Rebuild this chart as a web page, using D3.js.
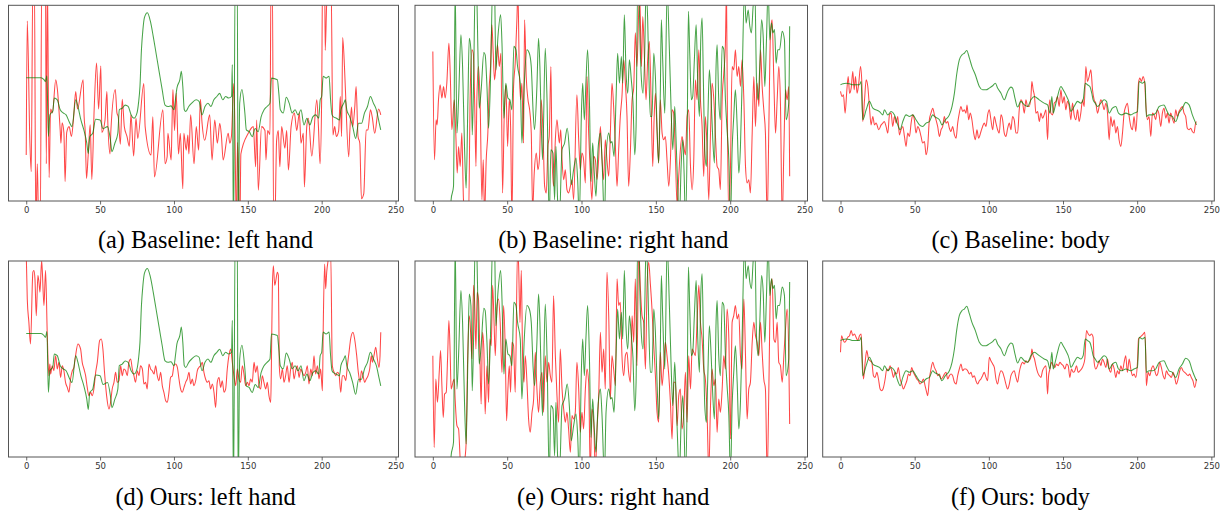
<!DOCTYPE html>
<html><head><meta charset="utf-8">
<script src="https://cdn.jsdelivr.net/npm/d3@7"></script>
<style>html,body{margin:0;padding:0;background:#fff;} svg{display:block;}</style>
</head><body>
<svg id="chart" width="1223" height="513"></svg>
<script>
// ---------- data (frame index, normalised value; values outside 0..100 leave the visible axes) ----------
const frameTicks = [0, 50, 100, 150, 200, 250];
const frameDomain = [-12, 252];
const valueDomain = [0, 100];

const captions = [
  "(a) Baseline: left hand", "(b) Baseline: right hand", "(c) Baseline: body",
  "(d) Ours: left hand", "(e) Ours: right hand", "(f) Ours: body"
];

// ground truth (green)
const gtLeftHand = [[0,63],[10,63],[12,62],[13,61],[14,64],[15,33],[16,44],[18,46],[19,52.6],[21,51.7],[23,46.6],[25,45],[27,44],[29,40.6],[31,38],[33.5,51.7],[35,48.3],[37,41.4],[39,36.3],[41,29.5],[42,24.3],[43,32.9],[45,34.6],[47,41.8],[50,41.4],[52,37],[55,38],[57,31.2],[58,25.2],[60,29.5],[62,34.6],[63,46.6],[65,47.4],[67,49],[69,48.3],[71,44],[73,42.3],[75,45],[76,50],[77,58.6],[78,77.4],[79,87.7],[80,93.7],[82,96.2],[84,92],[86,84],[88,75],[90,66],[92,57],[94,49],[96,48.3],[98,48.6],[100,46.6],[101,51.7],[102,57.7],[104,62],[105,66.3],[106,58.5],[107,46.6],[108,45.7],[110,48.3],[112,50],[115,51.7],[117,50.9],[119,44],[121,48.3],[123,50],[125,48.3],[127,51.7],[129,53.4],[131,55],[133,51.7],[135,53.4],[137,52.6],[139,53.4],[139.5,69.7],[140.3,-20],[141.5,120],[142.8,120],[143.5,-20],[144.5,50],[146,57],[148,45],[149,36.3],[151,35.4],[153,32.9],[155,37],[157,35.4],[159,43],[161,46.6],[163,48.3],[165,50],[166,62.8],[170,62],[171,55],[172,46.6],[174,45],[176,53],[178,50],[180,45],[182,46.6],[184,44],[186,46.6],[188,38.9],[190,42.3],[192,38.9],[194,43],[196,44],[198,42.3],[199,51.7],[200,53.4],[201,63.7],[203,62.8],[205,63.7],[206,52],[207,44],[208,43],[210,42.3],[212,41.4],[213,46.6],[215,50],[216,51.7],[217,46.6],[219,43],[221,38],[223,32],[225,39.7],[227,39.7],[229,45],[231,48.3],[233,53.4],[235,50],[237,46.6],[239,39.7],[240,36.3]];

const gtRightHand = [[0,-20],[11.5,-8],[12.3,0.7],[13.9,7.5],[15,110],[16.2,34.7],[17.3,51.7],[18.9,85],[20,68.7],[21.3,27.9],[22.4,6.6],[23.6,51.7],[24.5,83.2],[25.6,77.3],[26.5,33.8],[27.4,60.2],[28.5,110],[29.4,108],[30.3,77.3],[31.2,47.4],[32.5,56.8],[34.3,75.9],[35.2,74.7],[36.4,58.5],[37.5,37.2],[39,68.7],[40.2,110],[41.5,108],[42.4,67],[43.8,84.1],[45.6,95.2],[46.5,80.6],[47.8,42.3],[49.1,60.2],[50.5,52.6],[51.8,51.7],[53.2,46.6],[54.5,79],[55.9,77.3],[57,68.7],[58.8,60.2],[59.9,29.6],[61.5,60.2],[63.3,77.3],[64.9,75.5],[66.2,68.7],[67.5,44.9],[68.4,36.4],[70,58.5],[71.1,83.2],[72,68.7],[72.9,39.8],[73.8,21.1],[75.6,78.1],[76.8,51.7],[78.3,-10],[79.4,26.2],[80.8,24.5],[81.9,0.7],[82.8,27.9],[83.9,0.7],[85.1,-10],[86.9,26.2],[88.6,29.6],[90.4,37.2],[91.8,26.2],[93.1,8.3],[94.7,16],[96.3,21.9],[97.4,10.9],[98.5,-10],[99.9,44],[100.8,60.2],[101.9,41.5],[103,61.1],[104.1,77.3],[105.3,51.7],[106.4,10],[107.5,29.6],[108.6,14.3],[109.7,2.4],[111.1,26.2],[112.7,34.7],[113.8,21.1],[115.4,-10],[116.5,22.8],[118.3,34.7],[119.6,29.6],[120.5,30.4],[121.9,22.8],[123.2,51.7],[124.3,75.5],[125.5,60.2],[126.8,73.8],[127.7,60.2],[128.8,95.2],[129.9,67],[131.1,55.1],[132.2,72.1],[133.5,61.9],[134.6,50.9],[135.8,23.6],[136.7,38.1],[137.8,110],[138.5,110],[139.4,80.6],[140.3,61.9],[141.4,55.1],[142.5,75.5],[143.4,108],[144.5,92.6],[145.2,68.7],[146.3,43.2],[147.4,43.2],[148.6,75.5],[149.7,63.6],[150.8,38.1],[151.9,19.4],[153,55.1],[153.7,92.6],[154.6,72.1],[156,44.9],[157.6,108],[159.1,77.3],[160.2,48.3],[161.4,26.2],[162.7,48.3],[163.6,31.3],[164.9,2.4],[165.8,-10],[167,17.7],[168.1,31.3],[169,14.3],[169.9,-10],[171,26.2],[171.9,96.9],[172.8,75.5],[173.9,51.7],[174.8,53.4],[175.9,72.1],[177.1,90.1],[178.2,60.2],[179.3,43.2],[180.2,82.3],[181.1,93.5],[182,60.2],[182.9,26.2],[184,17.7],[184.9,39.8],[186,67],[187.2,51.7],[188.3,31.3],[189.4,19.4],[190.5,68.7],[191.2,79.8],[192.3,51.7],[193.4,41.5],[194.6,79],[195.7,77.3],[196.8,51.7],[197.9,36.4],[199.1,21.1],[200.2,-10],[201.3,26.2],[202.4,43.2],[203.5,56.8],[204.7,38.1],[205.8,14.3],[206.9,27.9],[208,60.2],[209.6,108],[210.7,90.9],[212.1,97.6],[213.2,89.3],[214.3,85.9],[215.4,99.3],[216.6,108],[217.7,61.9],[218.8,51.7],[219.9,68.7],[221.1,92.6],[222.2,84.1],[223.3,58.5],[224.4,82.3],[225.5,108],[226.7,82.3],[227.8,90.9],[228.7,85.9],[229.8,87.6],[230.9,70.4],[232,77.3],[233.2,77.3],[235,86.7],[236.5,82.3],[237.6,41.5],[239.4,50],[240,89.3]];

const gtBody = [[0,59.4],[1.6,59.9],[3.8,60.2],[6.1,59.9],[8.3,59.4],[12.8,59.4],[13.9,61.1],[15,41.5],[17.3,46.6],[19.5,50.9],[21.8,47.4],[26.3,45.7],[28.5,44],[29.6,46.6],[31.9,44],[34.1,45.7],[36.4,44],[38.6,38.9],[40.2,36.4],[42,40.6],[44.2,44],[46.5,43.2],[48.7,44],[50.9,41.5],[53.2,38.9],[55.4,38.1],[57.7,39.8],[59.9,40.6],[62.2,44],[63.3,43.2],[66.7,41.5],[68.4,38.9],[70.7,41.5],[73.4,44],[75.2,48.3],[76.8,55.1],[78.3,64.5],[80.1,72.1],[81.9,74.7],[83.5,75.5],[85.1,76.9],[86.9,73],[88.6,68.7],[90.9,64.5],[93.6,58.5],[95.8,56.8],[98.1,56.8],[100.3,57.7],[102.6,58.9],[104.4,60.2],[105.9,57.7],[108.2,55.1],[110.4,51.7],[112.7,56],[114.9,58.2],[116,57.7],[117.6,52.6],[119.4,48],[121.6,50.9],[123.9,49.1],[126.1,48.3],[128.4,51.7],[130.6,53.4],[134,51.7],[137.3,50],[139.6,49.1],[141.2,44.9],[142.5,53.4],[143.4,44.9],[144.7,48.3],[146.3,53.4],[148.6,58.5],[150.1,56.8],[151.9,54.3],[154.2,50],[155.3,45.7],[157.5,48.3],[159.8,50.9],[162,50],[163.6,51.7],[165,60.2],[166.5,59.4],[168.1,58.5],[169.4,55.1],[170.3,51.7],[171.7,50],[173.3,48.3],[175.5,50],[177.7,51.7],[179.3,50.9],[181.1,44.9],[183.3,47.4],[185.6,48.3],[187.4,44.9],[189.6,44],[192.3,44.9],[195.7,44],[197.9,44.9],[200.2,45.7],[201.3,61.1],[203.5,60.2],[205.3,61.1],[206.2,43.2],[208,44],[210.3,44],[212.5,44.9],[214.8,48.3],[218.1,49.1],[219.7,46.6],[221.5,44],[223.7,43.2],[226,40.6],[228.2,44.9],[230.5,47.4],[232.7,50.4],[235,49.1],[237.2,44],[240,38.9]];

// predictions (red)
const baseLeftHand = [[0,23.5],[0.7,92],[2.5,29.5],[3.4,15],[4.5,115],[5.5,115],[6.5,-15],[7.5,19],[8.5,-15],[9.5,-15],[10.5,115],[12,115],[13,115],[13.6,19],[14.3,115],[15.5,12],[16.5,47],[17.7,45],[20,62],[21.1,57],[23,36],[23.5,29.5],[24.3,40],[25.5,35],[26.3,10],[27.4,35],[29,38],[30.6,33],[32,42],[33.5,56],[34.7,47],[38.5,62],[39.2,43],[39.9,36],[40.8,11.5],[41.9,23],[43.3,39],[44.4,11],[46,47],[47.6,70.5],[49,47],[50.5,69],[51.2,35],[53.3,41],[54.6,56],[55.1,43],[56.7,24],[57.3,36],[60.3,57],[61.4,45],[62.3,43],[63.7,29],[65,52],[66.4,38],[68.2,33],[69.8,28],[70.9,44],[72.7,23],[74.3,42.3],[75.5,32],[79.6,60],[80.5,38],[84.5,23.5],[85.7,43],[86.8,12.3],[92.5,46.6],[94,19],[95.4,22.6],[95.9,34.6],[98.1,21],[98.6,36],[99.3,57],[100.4,36],[101.5,55],[103.1,24],[104.3,34.6],[106,6.3],[106.7,34.6],[108.3,26],[109.4,33.7],[110.1,24],[111.3,44],[113.6,19],[115.1,38],[116.7,26],[117.9,52],[119,40],[120.8,31],[124.2,44],[125.8,21],[127.6,41.4],[129.4,29.5],[131,39.7],[132.1,33.7],[133.3,21],[136.7,34.6],[137.8,29.5],[138.9,33],[140.5,60],[141.2,40],[142.3,-15],[143,30],[144.6,-15],[145.3,24],[150.3,34.6],[153.7,38],[155.3,17.5],[156,41.4],[157.1,5.5],[159.3,38],[161.6,36],[162.3,21],[163.4,36],[165,34],[165.7,115],[166.6,115],[167.5,-15],[168.2,-15],[169.5,31],[170.6,36],[171.7,17.5],[172.9,38],[175.1,27],[176.3,36],[177.5,15.8],[179.3,38],[181.5,45],[183.1,36],[184.9,45],[186,29.5],[187.6,34.6],[188.3,7.2],[189.9,38],[191,42.3],[193.3,23],[196.7,51.7],[197.8,38],[198.9,19],[200,53.4],[200.6,115],[202,115],[202.4,77],[203.5,103],[206.3,115],[207.6,33.7],[208.8,38],[209.9,33],[211.5,36],[212.6,53.4],[213.5,33],[214.2,83.5],[215.4,69],[216,58],[218.3,22.6],[219,34.6],[220.2,48],[221,38],[222.4,48],[223.3,58.5],[224.6,33],[225.8,29.5],[226.9,1.2],[228.5,3.8],[230.1,36.3],[231.3,36.3],[233,46.6],[234.2,43],[235.9,34.6],[238.5,47],[240,44]];

const baseRightHand = [[0,76.4],[1.1,21.1],[2.2,41.5],[2.9,38.9],[3.8,51.7],[4.9,59.4],[6.1,52.6],[7.2,58.5],[8.3,52.6],[9.4,60.2],[10.8,80.6],[11.7,65.3],[12.8,36.4],[14.4,51.7],[15.5,33],[16.4,14.3],[17.3,27.9],[18.4,17.7],[19.5,34.7],[20.6,0.7],[21.8,-8],[24,-10],[25.1,53.4],[26.3,77.3],[27.2,75.5],[28.1,51.7],[29,17.7],[29.6,51.7],[30.7,68.7],[31.9,46.6],[33,0.7],[33.9,21.1],[34.8,-8],[35.9,21.1],[37,34.7],[37.9,57.7],[38.8,68.7],[39.7,90.1],[40.6,75.5],[41.5,61.9],[42.4,68.7],[43.5,79.8],[44.7,68.7],[45.8,75.5],[46.9,4.1],[48,43.2],[49.1,59.4],[50.3,27.9],[51.4,51.7],[52.3,38.1],[53.2,-10],[54.3,58.5],[55.4,70.4],[56.6,94.3],[57.2,108],[58.1,68.7],[59,51.7],[59.9,60.2],[61,29.6],[61.7,92.6],[62.8,63.6],[64,51.7],[65.1,46.6],[66.2,34.7],[67.1,-5],[68.2,14.3],[69.6,24.5],[70.7,16],[71.8,22.8],[72.9,51.7],[74.1,34.7],[75.2,7.5],[76.3,4.1],[77.4,27.9],[78.3,33],[79.4,68.7],[80.1,26.2],[81.2,7.5],[82.4,31.3],[83.5,41.5],[85.1,29.6],[86,36.4],[86.9,21.1],[88,10.9],[89.1,16],[90.2,5.8],[91.3,4.1],[92.5,7.5],[93.6,10.9],[94.7,0.7],[96.9,54.3],[98.1,31.3],[99.2,16],[100.3,24.5],[101.4,21.1],[102.6,9.2],[103.7,63.6],[104.8,34.7],[105.9,14.3],[107,0.7],[108.2,22.8],[109.3,21.1],[110.4,10.9],[111.5,21.1],[112.7,38.1],[113.8,21.1],[114.9,10.9],[116,31.3],[117.1,21.1],[118.3,12.6],[119.4,34.7],[120.5,60.2],[121.6,48.3],[122.8,27.9],[123.9,7.5],[125,26.2],[126.1,43.2],[127.2,53.4],[128.4,72.1],[129.5,60.2],[130.6,43.2],[131.7,7.5],[132.9,26.2],[134,51.7],[135.1,57.7],[136.2,85.9],[137.3,68.7],[138.5,97.6],[139.1,106],[140.3,68.7],[141.2,94.3],[142.3,73.8],[143.4,51.7],[144.5,72.1],[145.6,81.5],[146.8,51.7],[147.9,17.7],[148.8,41.5],[149.7,55.1],[150.8,34.7],[151.9,19.4],[153,51.7],[154.2,34.7],[155.3,31.3],[156.4,33],[157.5,21.1],[158.7,7.5],[159.8,21.1],[160.9,46.6],[162,44.9],[163.2,21.1],[164.3,-2],[165.4,12.6],[166.5,26.2],[167.6,33],[168.8,27.9],[169.9,23.6],[171,43.2],[172.1,46.6],[173.3,17.7],[174.4,5.8],[175.5,21.1],[176.6,61.9],[177.7,51.7],[178.9,77.3],[180,51.7],[181.1,38.1],[182.2,12.6],[183.3,43.2],[184.5,26.2],[185.6,0.7],[186.7,33],[187.8,60.2],[189,51.7],[190.1,33],[191.2,17.7],[192.3,16],[193.4,5.8],[194.6,51.7],[195.7,65.3],[196.8,80.6],[197.5,108],[198.2,34.7],[199.1,-8],[200.2,17.7],[201.3,68.7],[202.4,67],[203.5,77.3],[204.7,63.6],[205.8,68.7],[206.9,58.5],[208,72.1],[209.2,51.7],[210.3,17.7],[211.4,9.2],[212.5,10.9],[213.6,4.1],[214.8,34.7],[215.9,63.6],[217,38.1],[218.1,60.2],[219.3,48.3],[220.4,77.3],[221.5,58.5],[222.6,46.6],[223.7,34.7],[224.9,-10],[226,38.1],[227.1,85.9],[228.2,92.6],[229.4,60.2],[230.5,34.7],[231.6,51.7],[232.7,68.7],[233.8,50],[235,-10],[236.1,26.2],[237.2,56.8],[238.3,51.7],[239.4,58.5],[240,12.6]];

const baseBody = [[0,56],[1.1,53.4],[2,54.3],[3.1,44.9],[4.3,56.8],[5.2,63.6],[6.1,55.1],[7.2,57.7],[8.3,66.2],[9.2,56.8],[10.1,63.6],[11.2,55.1],[12.3,60.2],[13.5,68.7],[14.4,60.2],[15,40.6],[16.2,51.7],[17.3,61.9],[18.4,58.5],[19.5,48.3],[20.6,38.9],[21.8,43.2],[22.9,38.9],[24,39.8],[25.8,36.4],[27.4,38.9],[28.5,39.8],[29.6,40.6],[30.7,38.1],[31.9,34.7],[33,44],[34.1,44.9],[35.2,38.1],[36.4,43.2],[37.5,39.8],[38.6,43.2],[39.7,33.8],[40.8,36.4],[42,38.1],[43.1,33],[44.2,27.9],[45.3,34.7],[46.5,33],[47.6,39.8],[48.7,44],[49.8,41.5],[50.9,34.7],[52.1,38.1],[53.2,36.4],[54.3,33],[55.4,29.6],[56.6,30.4],[57.7,23.6],[58.8,27.9],[59.9,41.5],[61,44.9],[62.2,47.4],[63.3,44],[64.4,41.5],[65.5,38.1],[66.7,33],[67.8,36.4],[68.9,38.1],[70,43.2],[71.1,39.8],[72.3,40.6],[73.4,37.2],[74.5,35.5],[75.6,38.1],[76.8,33.8],[77.9,32.1],[79,39.8],[80.1,44.9],[81.2,48.3],[82.4,45.7],[83.5,46.6],[84.6,44.9],[85.3,49.1],[86.4,41.5],[87.5,44.9],[88.6,41.5],[89.8,34.7],[90.9,31.3],[92,36.4],[93.1,32.1],[94.7,35.5],[95.8,38.1],[96.9,39.8],[98.1,38.1],[99.2,44],[100.3,46.6],[101.4,41.5],[102.6,36.4],[103.7,43.2],[104.8,39.8],[105.9,36.4],[107,34.7],[108.2,44],[109.3,41.5],[110.4,34.7],[111.5,33],[112.7,37.2],[113.8,39.8],[114.9,36.4],[116,43.2],[117.1,41.5],[118.3,34.7],[119.4,34.7],[120.5,46.6],[121.6,51.7],[122.8,50],[123.9,44.9],[125,51.7],[126.1,48.3],[127.2,48.3],[128.4,53.4],[129,61.1],[129.9,56.8],[130.8,53.4],[131.7,44.9],[132.9,45.7],[134,40.6],[135.1,44.9],[136.2,42.3],[137.3,44],[138.5,46.6],[139.6,31.3],[140.3,44.9],[141.2,51.7],[141.8,44.9],[143,44],[144.1,50],[145.2,50.9],[146.3,53.4],[147.4,48.3],[148.6,56.8],[149.7,50],[150.8,53.4],[151.9,46.6],[153,50.9],[154.2,48.3],[155.3,41.5],[156.4,50],[157.5,44],[158.7,41.5],[159.8,46.6],[160.9,40.6],[162,44.9],[163.2,51.7],[164.3,48.3],[165.4,68.7],[166.5,61.1],[167.6,63.6],[168.8,67],[169.9,56.8],[171,51.7],[172.1,50],[173.3,44.9],[174.4,48.3],[175.5,51.7],[176.6,50],[177.7,46.6],[178.9,50],[180,44.9],[181.1,31.3],[182.2,43.2],[183.3,38.1],[184.5,41.5],[185.6,34.7],[186.7,38.1],[187.8,31.3],[189,27.9],[190.1,34.7],[191.2,44.9],[192.3,48.3],[193.4,50],[194.6,43.2],[195.7,38.1],[196.8,36.4],[197.9,43.2],[199.1,35.5],[200.2,48.3],[200.9,60.2],[201.8,62.8],[202.9,61.1],[204,63.6],[205.1,60.2],[205.8,50],[206.9,41.5],[208,43.2],[209.2,33],[210.3,44.9],[211.4,44],[212.5,41.5],[213.6,46.6],[214.8,44],[215.9,38.1],[217,44.9],[218.1,47.4],[219.3,42.3],[220.4,44.9],[221.5,39.8],[222.6,44.9],[223.7,42.3],[224.9,39.8],[226,46.6],[227.1,43.2],[228.2,45.7],[229.4,47.4],[230.5,48.3],[231.6,44.9],[232.7,43.2],[233.8,37.2],[235,36.4],[236.1,37.2],[237.2,35.5],[238.3,34.7],[239.4,39.8],[240,40.6]];

const oursLeftHand = [[0,104],[0.7,80.6],[1.8,68.7],[2.9,57.7],[4.5,94.3],[5.2,95.2],[5.9,91],[6.8,72.1],[7.9,92.6],[8.6,89.3],[9.3,84.1],[10.4,100],[10.8,96.3],[12,77.3],[13.1,95.2],[14.2,63.6],[15.3,41.5],[16,47.4],[16.5,42.3],[17.6,46.6],[18.7,44],[19.9,51.7],[21,44.9],[22.1,48.3],[23.3,40.6],[24.4,46.6],[25.5,44],[26.6,38.1],[27.8,35.5],[28.9,33],[30,39.8],[31.2,44],[32.3,45.7],[33.4,51.7],[35,57.7],[36.8,55.1],[37.9,48.3],[39.1,44.9],[40.2,41.5],[41.3,35.5],[42.4,31.3],[43.6,33],[44.7,31.3],[45.8,34.7],[47,43.2],[48.1,48.3],[49.7,59.4],[50.8,60.2],[51.9,55.1],[53,43.2],[54.4,31.3],[56,24.5],[57.1,27.9],[58.2,34.7],[59.4,38.1],[60.5,43.2],[61.6,38.1],[62.8,38.9],[63.9,46.6],[65,41.5],[66.1,44.9],[67.3,44],[68.4,41.5],[69.5,48.3],[70.7,50],[71.8,44.9],[72.9,41.5],[74,38.1],[75.2,44],[76.3,41.5],[77.4,46.6],[78.6,44.9],[79.7,37.2],[80.8,38.1],[81.9,34.7],[83.1,47.4],[84.2,44.9],[85.3,44],[86.5,42.3],[87.6,46.6],[88.7,41.5],[89.8,38.9],[91,43.2],[92.1,36.4],[93.2,33],[94.4,28.7],[95.5,27.9],[96.6,33],[97.7,40.6],[98.9,41.5],[100,46.6],[101.1,47.4],[102.3,45.7],[103.4,39.8],[104.5,34.7],[105.6,33],[106.8,35.5],[107.9,38.1],[109,39.8],[110.2,43.2],[111.3,37.2],[112.4,39.8],[113.5,36.4],[114.7,38.9],[115.8,44],[116.9,45.7],[118.1,46.6],[119.2,48.3],[120.3,43.2],[121.4,39.8],[122.6,38.1],[123.7,38.9],[124.8,34.7],[126,37.2],[127.1,33],[128.2,25.3],[129.3,38.1],[130.5,40.6],[131.6,35.5],[132.7,38.9],[133.9,33],[135,34.7],[136.1,44.9],[137.2,51.7],[138.4,55.1],[139.5,48.3],[140.6,41.5],[141.8,36.4],[142.9,44.9],[144,39.8],[145.1,38.1],[146.3,46.6],[147.4,42.3],[148.5,36.4],[149.7,38.1],[150.8,36.4],[151.9,39.8],[153,38.1],[154.2,48.3],[155.3,43.2],[156.4,46.6],[157.6,36.4],[158.7,34.7],[159.8,41.5],[160.9,38.1],[162.1,34.7],[163.2,38.1],[164.3,31.3],[165.5,27.9],[165.9,43.2],[166.6,85.9],[167.3,97.6],[168.2,87.6],[168.8,89.3],[170,94.3],[170.7,92.6],[171.3,46.6],[172.2,39.8],[173.4,44.9],[174.5,38.1],[175.6,41.5],[176.7,46.6],[177.9,38.1],[179,44.9],[180.1,48.3],[181.3,39.8],[182.4,44],[183.5,46.6],[184.7,40.6],[185.8,44.9],[186.9,43.2],[188,41.5],[189.2,43.2],[190.3,46.6],[191.4,37.2],[192.6,44.9],[193.7,41.5],[194.8,51.7],[195.9,42.3],[197.1,46.6],[198.2,39.8],[199.3,44.9],[200.5,33.8],[201.1,68.7],[202,98.5],[202.7,85.9],[203.4,94.3],[204.3,100],[205,104],[206.1,104],[207.2,46.6],[208.4,43.2],[209.5,41.5],[210.6,43.2],[211.7,42.3],[212.9,33],[214,41.5],[215.1,41.5],[216.3,38.9],[217.4,46.6],[218.5,53.4],[219.6,60.2],[221.2,63.6],[222.3,60.2],[223.7,51.7],[224.8,43.2],[226,38.1],[226.9,44],[228,41.5],[229.1,38.1],[230.2,39.8],[231.4,41.5],[232.5,44.9],[233.6,51.7],[234.3,48.3],[235.4,51.7],[236.6,56],[237.7,50],[238.8,45.7],[239.5,51.7],[240,63.6]];

const oursRightHand = [[0,51.7],[0.9,4.9],[2,39.8],[3.1,27.9],[4.3,43.2],[5.2,54.3],[6.1,36.4],[7,20.2],[7.9,32.1],[9,33],[9.9,50],[10.8,69.6],[11.7,51.7],[12.3,34.7],[13.5,38.1],[14.4,39.8],[15,29.6],[16.2,16],[17.3,14.3],[18.4,-1],[19.5,-8],[21.8,0.7],[22.4,7.5],[23.3,46.6],[24.5,72.1],[25.4,63.6],[26.3,50],[27.4,87.6],[28.1,79],[29,55.1],[29.8,84.1],[30.7,80.6],[31.6,53.4],[32.5,27],[33.4,63.6],[34.3,55.1],[35.2,21.9],[36.4,46.6],[37.5,27.9],[38.4,60.2],[39.3,56.8],[40.2,87.6],[41.1,70.4],[42,51.7],[43.1,77.3],[44.2,80.6],[45.3,68.7],[46.5,43.2],[47.6,77.3],[48.7,55.1],[49.6,18.5],[50.5,34.7],[51.4,46.6],[52.3,33],[53.2,58.5],[54.3,56.8],[55.4,33],[57,106],[57.7,97.6],[58.6,68.7],[59.5,95.2],[60.4,50],[61.3,38.1],[62.2,51.7],[63.3,38.1],[64.4,19.4],[65.5,12.6],[66.7,22.8],[67.8,29.6],[68.9,53.4],[70,34.7],[71.1,22.8],[72.3,38.1],[73.4,43.2],[74.5,22.8],[75.6,51.7],[76.8,38.1],[77.9,48.3],[79,41.5],[80.1,38.1],[81.2,82.3],[82.4,51.7],[83.5,31.3],[84.6,17.7],[85.7,55.1],[86.9,34.7],[88,24.5],[89.1,17.7],[90.2,22.8],[91.3,14.3],[92.5,2.4],[93.6,21.1],[94.7,19.4],[95.8,22.8],[96.9,48.3],[98.1,34.7],[99.2,12.6],[100.3,22.8],[101.4,14.3],[102.6,34.7],[103.7,44.9],[104.8,38.1],[105.9,-8],[107,24.5],[108.2,17.7],[109.3,-8],[110.4,14.3],[111.5,29.6],[112.7,63.6],[113.8,43.2],[114.9,55.1],[116,34.7],[117.1,94.3],[118.3,72.1],[119.4,29.6],[120.5,51.7],[121.6,44.9],[122.8,36.4],[123.9,90.9],[125,77.3],[126.1,79],[127.2,51.7],[128.4,41.5],[129.5,51.7],[130.6,53.4],[131.7,43.2],[132.9,38.1],[134,72.1],[135.1,58.5],[136.2,90.9],[137.3,46.6],[138.5,106],[139.6,85.9],[140.7,72.1],[141.8,68.7],[143,44.9],[144.1,87.6],[145.2,99.3],[146.3,88.4],[147.4,75.5],[148.6,56.8],[149.7,41.5],[150.8,22.8],[151.9,17.7],[153,53.4],[154.2,36.4],[155.3,46.6],[156.4,58.5],[157.5,51.7],[158.7,41.5],[159.8,27.9],[160.9,9.2],[162,38.1],[163.2,38.1],[164.3,16],[165.4,31.3],[166.5,34.7],[167.6,14.3],[168.8,22.8],[169.9,43.2],[171,17.7],[172.1,51.7],[173.3,34.7],[174.4,55.1],[175.5,53.4],[176.6,51.7],[177.7,68.7],[178.9,87.6],[180,68.7],[181.1,60.2],[182.2,44.9],[183.3,39.8],[184.5,21.1],[185.6,-8],[186.7,24.5],[187.8,44.9],[189,36.4],[190.1,39.8],[191.2,12.6],[192.3,29.6],[193.4,22.8],[194.6,34.7],[195.7,51.7],[196.8,44.9],[197.9,75.5],[199.1,60.2],[200.2,9.2],[201.3,68.7],[202.4,72.1],[203.5,77.3],[204.7,70.4],[205.8,73],[206.9,51.7],[208,44.9],[209.2,80.6],[210.3,51.7],[211.4,19.4],[212.5,34.7],[213.6,38.1],[214.8,58.5],[215.9,68.7],[217,61.9],[218.1,58.5],[219.3,51.7],[220.4,68.7],[221.5,53.4],[222.6,39.8],[223.7,34.7],[224.9,-10],[226,34.7],[227.1,85.9],[228.2,90.9],[229.4,60.2],[230.5,58.5],[231.6,68.7],[232.7,48.3],[233.8,46.6],[235,38.1],[236.1,51.7],[237.2,65.3],[238.3,75.5],[239.4,51.7],[240,16.8]];

const oursBody = [[0,53.4],[0.7,61.9],[1.6,60.2],[2.7,58.5],[3.8,59.4],[4.9,61.1],[6.1,61.9],[7.2,64.5],[8.3,61.9],[9.4,62.8],[10.5,61.1],[11.7,59.4],[12.8,61.9],[13.9,62.8],[14.6,51.7],[15.5,39.8],[16.6,48.3],[17.7,54.3],[18.9,50],[20,49.1],[21.1,48.3],[22.2,41.5],[23.3,40.6],[24.5,43.2],[25.6,39.8],[26.7,34.7],[27.8,33.8],[29,35.5],[30.1,39.8],[31.2,44.9],[32.3,44],[33.4,46.6],[34.6,44],[35.7,40.6],[36.8,43.2],[37.9,42.3],[39,45.7],[40.2,39.8],[41.3,37.2],[42.4,34.7],[43.5,36.4],[44.7,38.9],[45.8,42.3],[46.9,41.5],[48,45.7],[49.1,43.2],[50.3,41.5],[51.4,39.8],[52.5,38.9],[53.6,37.2],[54.8,38.1],[55.9,39.8],[57,36.4],[58.1,33],[58.8,31.3],[59.9,39.8],[61,44.9],[62.2,48.3],[63.3,45.7],[64.4,44],[65.5,41.5],[66.7,42.3],[67.8,39.8],[68.9,40.6],[70,42.3],[71.1,43.2],[72.3,39.8],[73.4,41.5],[74.5,42.3],[75.6,41.5],[76.8,38.1],[77.9,37.2],[79,41.5],[80.1,44.9],[81.2,47.4],[82.4,44],[83.5,44.9],[84.6,44.9],[85.7,44],[86.9,42.3],[88,43.2],[89.1,40.6],[90.2,41.5],[91.3,38.9],[92.5,37.2],[93.6,38.9],[94.7,39.8],[95.8,41.5],[96.9,43.2],[98.1,40.6],[99.2,38.9],[100.3,50.9],[101.4,49.1],[102.6,47.4],[103.7,45.7],[104.8,39.8],[105.9,37.2],[107,41.5],[108.2,44],[109.3,43.2],[110.4,40.6],[111.5,37.2],[112.7,34.7],[113.8,37.2],[114.9,41.5],[116,43.2],[117.1,44],[118.3,40.6],[119.4,38.1],[120.5,43.2],[121.6,46.6],[122.8,48.3],[123.9,47.4],[125,49.1],[126.1,48.3],[127.2,49.1],[128.4,50.9],[129,55.1],[129.9,51.7],[130.8,50],[131.7,46.6],[132.9,43.2],[134,41.5],[135.1,40.6],[136.2,44],[137.3,45.7],[138.5,46.6],[139.6,32.1],[140.3,41.5],[141.2,44.9],[142.3,48.3],[143.4,46.6],[144.5,45.7],[145.6,47.4],[146.8,46.6],[147.9,48.3],[149,47.4],[150.1,46.6],[151.3,44.9],[152.4,47.4],[153.5,46.6],[154.6,40.6],[155.7,44.9],[156.9,43.2],[158,44],[159.1,46.6],[160.2,43.2],[161.4,44],[162.5,44.9],[163.6,46.6],[164.7,50],[165.8,64.5],[167,62.8],[168.1,61.9],[169.2,62.8],[170.3,61.1],[171,48.3],[172.1,44.9],[173.3,46.6],[174.4,49.1],[175.5,46.6],[176.6,50],[177.7,48.3],[178.9,45.7],[180,50],[181.1,44.9],[182.2,43.2],[183.3,47.4],[184.5,44.9],[185.6,40.6],[186.7,44],[187.8,42.3],[189,46.6],[190.1,44],[191.2,48.3],[192.3,51.7],[193.4,43.2],[194.6,50],[195.7,44.9],[196.8,41.5],[197.9,42.3],[199.1,40.6],[200.2,48.3],[200.9,60.2],[202,61.1],[203.1,61.9],[204.2,62.8],[205.1,63.6],[205.8,51.7],[206.2,36.4],[207.4,43.2],[208.5,41.5],[209.6,44.9],[210.7,46.6],[211.9,44],[213,41.5],[214.1,43.2],[215.2,48.3],[216.3,45.7],[217.5,41.5],[218.6,39.8],[219.7,44],[220.8,42.3],[221.9,41.5],[223.1,40.6],[224.2,43.2],[225.3,40.6],[226.4,37.2],[227.6,39.8],[228.7,44],[229.8,45.7],[230.9,44],[232,43.2],[233.2,42.3],[234.3,41.5],[235.4,42.3],[236.5,40.6],[237.6,38.9],[238.8,35.5],[240,39.8]];

// ---------- layout ----------
const colLeft = [8.5, 415, 822.7];
const colWidth = [390, 392.5, 391.6];
const rowTop = [5.3, 261];
const rowHeight = [195.7, 196];
const captionBaseline = [247.5, 504.5];

const panels = [
  {col:0, row:0, pred:baseLeftHand, gt:gtLeftHand},
  {col:1, row:0, pred:baseRightHand, gt:gtRightHand},
  {col:2, row:0, pred:baseBody, gt:gtBody},
  {col:0, row:1, pred:oursLeftHand, gt:gtLeftHand},
  {col:1, row:1, pred:oursRightHand, gt:gtRightHand},
  {col:2, row:1, pred:oursBody, gt:gtBody}
];

const svg = d3.select("#chart");
panels.forEach((p, i) => {
  const w = colWidth[p.col], h = rowHeight[p.row];
  const g = svg.append("g").attr("transform", `translate(${colLeft[p.col]},${rowTop[p.row]})`);
  const x = d3.scaleLinear().domain(frameDomain).range([0, w]);
  const y = d3.scaleLinear().domain(valueDomain).range([h, 0]);
  const clipId = "clip" + i;
  g.append("clipPath").attr("id", clipId).append("rect").attr("width", w).attr("height", h);
  const line = d3.line().x(d => x(d[0])).y(d => y(d[1])).curve(d3.curveMonotoneX);
  const plot = g.append("g").attr("clip-path", `url(#${clipId})`);
  plot.append("path").datum(p.pred).attr("d", line)
    .attr("fill", "none").attr("stroke", "#ff0000").attr("stroke-opacity", 0.72)
    .attr("stroke-width", 1.05).attr("stroke-linejoin", "round");
  plot.append("path").datum(p.gt).attr("d", line)
    .attr("fill", "none").attr("stroke", "#008000").attr("stroke-opacity", 0.72)
    .attr("stroke-width", 1.05).attr("stroke-linejoin", "round");
  g.append("rect").attr("width", w).attr("height", h)
    .attr("fill", "none").attr("stroke", "#555").attr("stroke-width", 1);
  const axis = d3.axisBottom(x).tickValues(frameTicks).tickSize(3.5).tickPadding(2).tickFormat(d3.format("d"));
  const ax = g.append("g").attr("transform", `translate(0,${h})`).call(axis);
  ax.select(".domain").remove();
  ax.selectAll("line").attr("stroke", "#444").attr("stroke-width", 0.8);
  ax.selectAll("text").attr("font-family", "DejaVu Sans").attr("font-size", 8.5).attr("fill", "#333");
  svg.append("text").text(captions[i])
    .attr("x", colLeft[p.col] + w / 2 + 2).attr("y", captionBaseline[p.row])
    .attr("text-anchor", "middle").attr("font-family", "Liberation Serif")
    .attr("font-size", 24.3).attr("fill", "#000");
});
</script>
</body></html>
